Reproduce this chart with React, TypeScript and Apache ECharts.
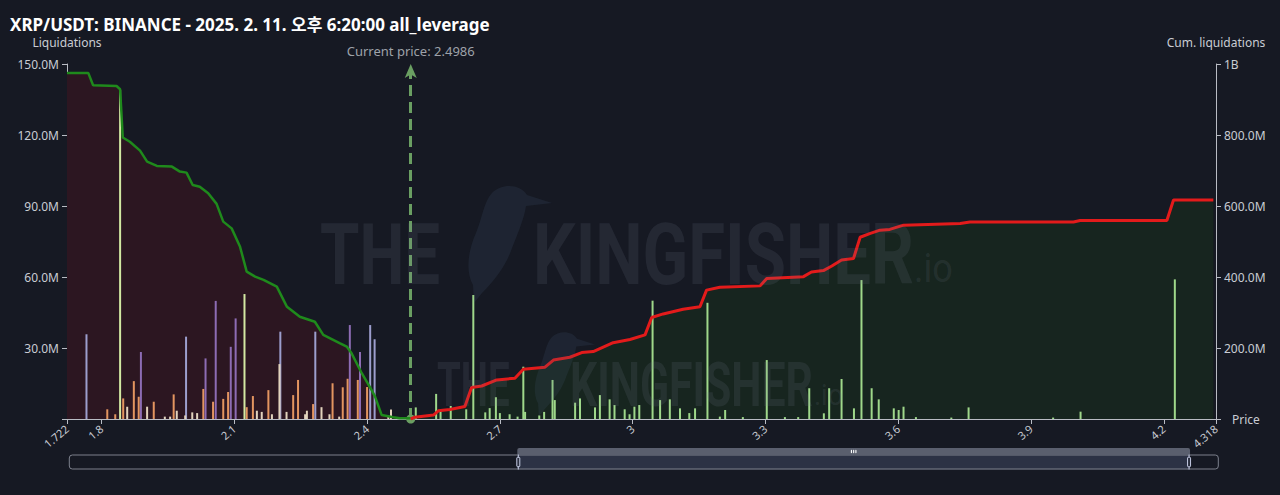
import React, { useEffect, useRef } from 'react';
import * as echarts from 'echarts';

// ---------- data (liquidations in millions of USDT, price in USDT) ----------
const TITLE = 'XRP/USDT: BINANCE - 2025. 2. 11. 오후 6:20:00 all_leverage';
const CURRENT_PRICE = 2.4986;
const PRICE_MIN = 1.722;
const PRICE_MAX = 4.318;
const LEFT_MAX = 150;
const LEFT_STEP = 30;
const RIGHT_MAX = 1000;
const RIGHT_STEP = 200;

// long liquidations below current price, grouped by colour
const longOrange: [number, number][] = [
  [1.813, 4.1], [1.831, 2.0], [1.849, 8.7], [1.873, 16.0], [1.884, 9.4], [1.918, 7.3],
  [1.963, 10.4], [2.030, 12.7], [2.052, 7.3], [2.075, 8.5], [2.086, 11.4], [2.128, 5.0],
  [2.142, 9.7], [2.177, 12.2], [2.233, 10.1], [2.244, 16.5], [2.278, 6.3], [2.322, 15.1],
  [2.345, 13.4], [2.356, 17.0], [2.379, 16.5], [2.400, 13.5],
];
const longPurple: [number, number][] = [
  [1.889, 28.3], [2.035, 25.6], [2.058, 49.9], [2.092, 30.5], [2.103, 42.5],
  [2.361, 39.7], [2.384, 28.3],
];
const longLavender: [number, number][] = [
  [1.766, 35.8], [1.991, 34.8], [2.204, 36.9], [2.283, 36.9], [2.407, 39.7], [2.417, 33.7],
];
const longLime: [number, number][] = [
  [1.842, 139.0], [2.123, 52.8],
];
const longPale: [number, number][] = [
  [1.858, 5.2], [1.903, 5.2], [1.943, 1.0], [1.955, 1.0], [1.970, 3.5], [1.989, 1.5],
  [2.005, 2.8], [2.016, 2.5], [2.151, 3.5], [2.162, 3.0], [2.185, 2.0], [2.202, 23.2],
  [2.218, 3.0], [2.260, 2.0], [2.264, 3.5], [2.297, 5.0], [2.315, 2.0], [2.337, 1.0],
  [2.448, 1.5], [2.454, 4.0],
];
// short liquidations above current price
const shortGreen: [number, number][] = [
  [2.510, 4.9], [2.556, 10.6], [2.566, 3.3], [2.589, 5.5], [2.624, 4.1], [2.640, 52.4],
  [2.667, 2.8], [2.677, 4.6], [2.691, 9.2], [2.700, 2.5], [2.722, 2.0], [2.740, 1.0],
  [2.753, 22.1], [2.757, 3.0], [2.789, 1.5], [2.800, 3.0], [2.819, 16.5], [2.824, 8.0],
  [2.870, 6.9], [2.881, 8.7], [2.915, 4.9], [2.926, 10.1], [2.948, 8.3], [2.959, 5.9],
  [2.982, 4.1], [2.993, 2.0], [3.004, 5.2], [3.015, 5.9], [3.045, 50.0], [3.062, 8.0],
  [3.084, 8.3], [3.107, 4.5], [3.128, 2.5], [3.141, 4.5], [3.169, 49.1], [3.197, 1.0],
  [3.209, 3.8], [3.249, 0.8], [3.303, 24.9], [3.344, 0.8], [3.374, 0.8], [3.399, 13.0],
  [3.432, 2.4], [3.444, 13.0], [3.472, 16.9], [3.500, 4.5], [3.517, 58.7], [3.540, 13.0],
  [3.556, 8.3], [3.590, 4.5], [3.601, 3.8], [3.612, 5.2], [3.640, 0.8], [3.720, 0.6],
  [3.759, 4.9], [3.950, 0.6], [4.012, 3.1], [4.225, 59.0],
];

// cumulative liquidations (millions)
const cumLong: [number, number][] = [
  [1.722, 975], [1.770, 975], [1.781, 940], [1.834, 938], [1.842, 929], [1.848, 793],
  [1.864, 781], [1.887, 756], [1.903, 725], [1.925, 713], [1.959, 711], [1.977, 697],
  [1.992, 694], [2.006, 659], [2.022, 654], [2.041, 636], [2.060, 606], [2.075, 556],
  [2.094, 537], [2.113, 485], [2.128, 415], [2.147, 401], [2.166, 392], [2.196, 373],
  [2.219, 316], [2.248, 288], [2.282, 274], [2.301, 237], [2.339, 213], [2.354, 204],
  [2.365, 185], [2.388, 129], [2.410, 82], [2.418, 63], [2.433, 11], [2.459, 5],
  [2.474, 2], [2.4986, 2],
];
const cumShort: [number, number][] = [
  [2.4986, 0], [2.508, 5], [2.550, 11], [2.561, 23], [2.587, 27], [2.621, 35], [2.636, 89],
  [2.659, 93], [2.693, 110], [2.734, 115], [2.753, 140], [2.802, 146], [2.821, 166],
  [2.858, 174], [2.885, 187], [2.911, 190], [2.956, 215], [2.994, 224], [3.028, 237],
  [3.043, 286], [3.069, 296], [3.114, 309], [3.152, 316], [3.167, 363], [3.197, 371],
  [3.288, 375], [3.303, 396], [3.386, 401], [3.404, 414], [3.431, 418], [3.450, 431],
  [3.472, 448], [3.499, 452], [3.514, 512], [3.537, 523], [3.559, 532], [3.581, 534],
  [3.612, 546], [3.740, 551], [3.762, 555], [3.996, 555], [4.011, 559], [4.207, 559],
  [4.222, 617], [4.312, 617],
];

const SLIDER_START = 39;
const SLIDER_END = 97.5;

const BG = '#161923';
const AXIS_COLOR = '#b9bcc4';
const LABEL_COLOR = '#c9ccd3';
const FONT = "'Noto Sans', 'Noto Sans CJK KR', sans-serif";
const WM_FONT = "Roboto, 'Noto Sans', sans-serif";

const BIRD_PATH =
  'M40 10 C50 0 68 1 75 12 L100 20 L74 23 C72 36 66 50 60 65 C55 80 45 95 30 110 L22 120 L21 102 C14 90 15 70 24 50 C30 36 32 18 40 10 Z';

function fmtLeft(v: number) {
  if (v === 0) return '';
  return v.toFixed(1) + 'M';
}
function fmtRight(v: number) {
  if (v === 0) return '';
  if (v >= 1000) return v / 1000 + 'B';
  return v.toFixed(1) + 'M';
}

function barSeries(name: string, data: [number, number][], color: string, extra: any = {}) {
  return {
    name,
    type: 'bar',
    xAxisIndex: 0,
    yAxisIndex: 0,
    data,
    barWidth: 2,
    barGap: '-100%',
    itemStyle: { color },
    z: 3,
    ...extra,
  };
}

function wmText(text: string, x: number, y: number, size: number, sx: number, weight: string, fill: string) {
  return {
    type: 'text', x, y, scaleX: sx, z: 100, silent: true,
    style: { text, fill, font: `${weight} ${size}px ${WM_FONT}`, align: 'left', verticalAlign: 'middle' },
  };
}

export default function App() {
  const ref = useRef<HTMLDivElement>(null);
  useEffect(() => {
    document.body.style.margin = '0';
    document.body.style.background = BG;
    try {
      echarts.graphic.registerShape('kfbird', echarts.graphic.extendPath(BIRD_PATH, {}) as any);
    } catch (e) {
      /* already registered */
    }
    const chart = echarts.init(ref.current!, undefined, { renderer: 'svg' });
    const wm = 'rgba(120,130,150,0.15)';
    const bird = 'rgba(70,95,125,0.17)';
    chart.setOption({
      animation: false,
      backgroundColor: BG,
      textStyle: { fontFamily: FONT },
      title: {
        text: TITLE,
        left: 10,
        top: 16,
        padding: 0,
        textStyle: { color: '#ffffff', fontSize: 17, fontWeight: 'bold', fontFamily: FONT },
      },
      grid: { left: 67, right: 64, top: 64, bottom: 76, containLabel: false },
      graphic: [
        wmText('THE', 320, 254, 86, 0.74, 'bold', wm),
        { type: 'kfbird', x: 452, y: 183, scaleX: 1, scaleY: 1, z: 100, silent: true, style: { fill: bird } },
        wmText('KINGFISHER', 533, 254, 86, 0.78, 'bold', wm),
        wmText('.io', 914, 268, 40, 0.9, 'normal', wm),
        wmText('THE', 437, 385, 62, 0.62, 'bold', wm),
        { type: 'kfbird', x: 523, y: 330, scaleX: 0.72, scaleY: 0.72, z: 100, silent: true, style: { fill: bird } },
        wmText('KINGFISHER', 570, 385, 62, 0.69, 'bold', wm),
        wmText('.io', 814, 395, 30, 0.9, 'normal', wm),
      ],
      xAxis: [
        {
          type: 'value',
          min: PRICE_MIN,
          max: PRICE_MAX,
          splitNumber: 8,
          name: 'Price',
          nameLocation: 'end',
          nameGap: 16,
          nameTextStyle: { color: LABEL_COLOR, fontSize: 12, verticalAlign: 'middle' },
          axisLine: { show: true, onZero: false, lineStyle: { color: AXIS_COLOR } },
          axisTick: { show: true, lineStyle: { color: AXIS_COLOR } },
          axisLabel: { color: LABEL_COLOR, fontSize: 11, rotate: 40, showMinLabel: true, showMaxLabel: true },
          splitLine: { show: false },
        },
        { type: 'value', show: false, min: 0, max: 100, gridIndex: 0 },
      ],
      yAxis: [
        {
          type: 'value',
          min: 0,
          max: LEFT_MAX,
          interval: LEFT_STEP,
          name: 'Liquidations',
          nameLocation: 'end',
          nameGap: 16,
          nameTextStyle: { color: LABEL_COLOR, fontSize: 12 },
          axisLine: { show: true, lineStyle: { color: AXIS_COLOR } },
          axisTick: { show: true, lineStyle: { color: AXIS_COLOR } },
          axisLabel: { color: LABEL_COLOR, fontSize: 12, formatter: fmtLeft },
          splitLine: { show: false },
        },
        {
          type: 'value',
          min: 0,
          max: RIGHT_MAX,
          interval: RIGHT_STEP,
          position: 'right',
          name: 'Cum. liquidations',
          nameLocation: 'end',
          nameGap: 16,
          nameTextStyle: { color: LABEL_COLOR, fontSize: 12 },
          axisLine: { show: true, lineStyle: { color: AXIS_COLOR } },
          axisTick: { show: true, lineStyle: { color: AXIS_COLOR } },
          axisLabel: { color: LABEL_COLOR, fontSize: 12, formatter: fmtRight },
          splitLine: { show: false },
        },
      ],
      dataZoom: [
        {
          type: 'slider',
          xAxisIndex: 1,
          filterMode: 'none',
          start: SLIDER_START,
          end: SLIDER_END,
          left: 66,
          right: 64,
          top: 448,
          height: 15,
          showDetail: false,
          showDataShadow: false,
          brushSelect: true,
          backgroundColor: 'rgba(0,0,0,0)',
          borderColor: '#7c808c',
          borderRadius: 3,
          fillerColor: 'rgba(72,82,110,0.45)',
          handleStyle: { color: '#2b3040', borderColor: '#c5cbe3' },
          moveHandleSize: 7,
          moveHandleStyle: { color: '#5a5f6e', opacity: 1 },
        },
      ],
      series: [
        // cumulative areas (behind bars)
        {
          type: 'line', xAxisIndex: 0, yAxisIndex: 1, data: cumLong, symbol: 'none', silent: true,
          lineStyle: { width: 0 }, areaStyle: { color: '#2c1621', opacity: 1 }, z: 1,
        },
        {
          type: 'line', xAxisIndex: 0, yAxisIndex: 1, data: cumShort, symbol: 'none', silent: true,
          lineStyle: { width: 0 }, areaStyle: { color: '#17251f', opacity: 1 }, z: 1,
        },
        barSeries('orange', longOrange, '#e39560', {
          markLine: {
            silent: true,
            symbol: ['circle', 'arrow'],
            symbolSize: [9, 14],
            lineStyle: { color: '#6a9f62', width: 3, type: [11, 6] },
            label: {
              show: true, position: 'end', distance: 7,
              formatter: 'Current price: ' + CURRENT_PRICE,
              color: '#9ea2a9', fontSize: 13,
            },
            data: [[{ coord: [CURRENT_PRICE, 0] }, { coord: [CURRENT_PRICE, LEFT_MAX] }]],
          },
        }),
        barSeries('purple', longPurple, '#8d6cb4'),
        barSeries('lavender', longLavender, '#9c9ecd'),
        barSeries('lime', longLime, '#d3e8a2'),
        barSeries('pale', longPale, '#e2d3bd'),
        barSeries('green', shortGreen, '#9fd88a'),
        // cumulative lines (on top)
        {
          type: 'line', xAxisIndex: 0, yAxisIndex: 1, data: cumLong, symbol: 'none', silent: true,
          lineStyle: { width: 2.5, color: '#1f8a1c' }, z: 5,
        },
        {
          type: 'line', xAxisIndex: 0, yAxisIndex: 1, data: cumShort, symbol: 'none', silent: true,
          lineStyle: { width: 3, color: '#e31b1b' }, z: 5,
        },
      ],
    });
    return () => chart.dispose();
  }, []);
  return <div ref={ref} style={{ width: 1280, height: 495 }} />;
}
